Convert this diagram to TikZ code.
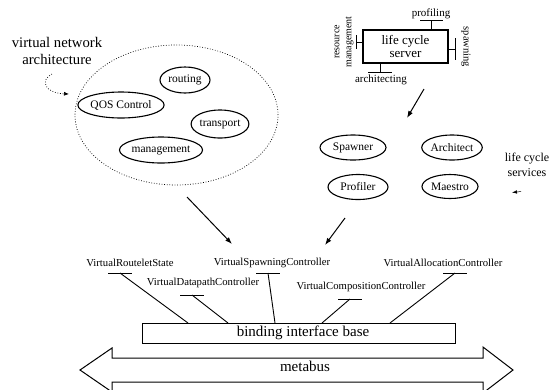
\documentclass[tikz,border=0pt]{standalone}
\usepackage{fontspec}
\setmainfont{Liberation Serif}
\usetikzlibrary{shapes.geometric,arrows.meta,calc}
\begin{document}
\begin{tikzpicture}[x=1pt,y=-1pt,
  oval/.style={ellipse,draw,line width=1.1pt,inner sep=0pt,font=\fontsize{11.5}{13}\selectfont},
  port/.style={font=\fontsize{10.7}{12}\selectfont,inner sep=0pt},
  small/.style={font=\fontsize{11}{12}\selectfont,inner sep=0pt},
  stub/.style={line width=0.9pt},
  conn/.style={line width=0.9pt},
  flow/.style={line width=1pt,-{Latex[length=7pt,width=5pt]}},
  dots/.style={line width=0.7pt,dash pattern=on 0.8pt off 1.8pt},
  note/.style={align=center,inner sep=0pt}
]
\useasboundingbox (0,0) rectangle (556,389);

% ---- virtual network architecture ----
\node[note,font=\fontsize{14.7}{17}\selectfont] (vnalabel) at (57,51) {virtual network\\architecture};
\node[ellipse,draw,dots,minimum width=203,minimum height=140,inner sep=0pt] (vna) at (176.5,115) {};
\node[oval,minimum width=50,minimum height=26] (routing) at (185,80) {routing};
\node[oval,minimum width=72,minimum height=26] (qos) at (121,105) {QOS Control};
\node[oval,minimum width=56,minimum height=28] (transport) at (220,124) {transport};
\node[oval,minimum width=82,minimum height=26] (mgmt) at (161,150) {management};
\coordinate (vnaFrom) at (52,74);
\coordinate (vnaTo) at (69,94);
\draw[dots,-{Latex[length=5pt,width=4pt]}] (vnaFrom) .. controls (40,80) and (44,93) .. (vnaTo);

% ---- life cycle server with its ports ----
\node[draw,line width=1.1pt,minimum width=85,minimum height=33,inner sep=0pt,
      note,font=\fontsize{13}{13}\selectfont] (server) at (405.5,46.5) {life cycle\\server};
\coordinate (pfT) at (431,20);
\coordinate (spT) at (455,49);
\coordinate (rmT) at (356,42);
\coordinate (arT) at (380,72);
\draw[stub] ($(pfT)+(-11,0)$) -- ($(pfT)+(12,0)$);
\draw[stub] (pfT) -- (pfT |- server.north);
\draw[stub] ($(spT)+(0,-11)$) -- ($(spT)+(0,11)$);
\draw[stub] (spT) -- (spT -| server.east);
\draw[stub] ($(rmT)+(0,-7)$) -- ($(rmT)+(0,7)$);
\draw[stub] (rmT) -- (rmT -| server.west);
\draw[stub] ($(arT)+(-12,0)$) -- ($(arT)+(12,0)$);
\draw[stub] (arT) -- (arT |- server.south);
\node[small] (profiling) at (431,14) {profiling};
\node[small,rotate=-90,font=\fontsize{10.5}{12}\selectfont] (spawning) at (466,47) {spawning};
\node[note,rotate=90,font=\fontsize{10}{12}\selectfont] (resmgmt) at (344,42) {resource\\management};
\node[small] (architecting) at (381,80) {architecting};

% ---- life cycle services ----
\node[oval,minimum width=66,minimum height=25] (spawner) at (353,147.5) {Spawner};
\node[oval,minimum width=60,minimum height=25] (architect) at (452,147.5) {Architect};
\node[oval,minimum width=60,minimum height=25] (profiler) at (358,187) {Profiler};
\node[oval,minimum width=56,minimum height=24] (maestro) at (450,186.5) {Maestro};
\node[note,font=\fontsize{12}{15}\selectfont] (lcs) at (527,164.5) {life cycle\\services};
\coordinate (lcsFrom) at (521,191.5);
\coordinate (lcsTo) at (512,192.5);
\draw[line width=0.5pt,-{Latex[length=5pt,width=3.5pt]}] (lcsFrom) -- (lcsTo);

% ---- flows towards the binding base ----
\coordinate (srvFrom) at (424,89);
\coordinate (srvTo) at (407,118);
\draw[flow] (srvFrom) -- (srvTo);
\coordinate (vnaOut) at (187,197);
\coordinate (vnaIn) at (232,244);
\draw[flow] (vnaOut) -- (vnaIn);
\coordinate (lcOut) at (345,218);
\coordinate (lcIn) at (325,245);
\draw[flow] (lcOut) -- (lcIn);

% ---- controller interfaces ----
\node[draw,line width=1pt,minimum width=313,minimum height=20,inner sep=0pt,
      font=\fontsize{15}{15}\selectfont] (bind) at (298.5,333) {\hspace{9pt}binding interface base};
\node[port] (vrs) at (130,263) {VirtualRouteletState};
\node[port] (vdc) at (203,283) {VirtualDatapathController};
\node[port] (vsc) at (272,263) {VirtualSpawningController};
\node[port] (vcc) at (361,287) {VirtualCompositionController};
\node[port] (vac) at (443,263) {VirtualAllocationController};
\coordinate (rsT) at (120,273);
\coordinate (dcT) at (192,295);
\coordinate (scT) at (268,273);
\coordinate (ccT) at (350,299);
\coordinate (acT) at (455,273);
\coordinate (rsB) at (188,323);
\coordinate (dcB) at (228,323);
\coordinate (scB) at (275,323);
\coordinate (ccB) at (322,323);
\coordinate (acB) at (390,323);
\foreach \p in {rs,dc,sc,cc,ac}{
  \draw[stub] ($(\p T)+(-12,0)$) -- ($(\p T)+(12,0)$);
  \draw[conn] (\p T) -- (\p B);
}

% ---- metabus ----
\draw[line width=1pt] (80,370) -- (112,348) -- (112,358) -- (483,358) -- (483,347)
  -- (513,370) -- (483,393) -- (483,382) -- (112,382) -- (112,392) -- cycle;
\node[font=\fontsize{15}{15}\selectfont,inner sep=0pt] (metabus) at (305,366) {metabus};
\end{tikzpicture}
\end{document}
